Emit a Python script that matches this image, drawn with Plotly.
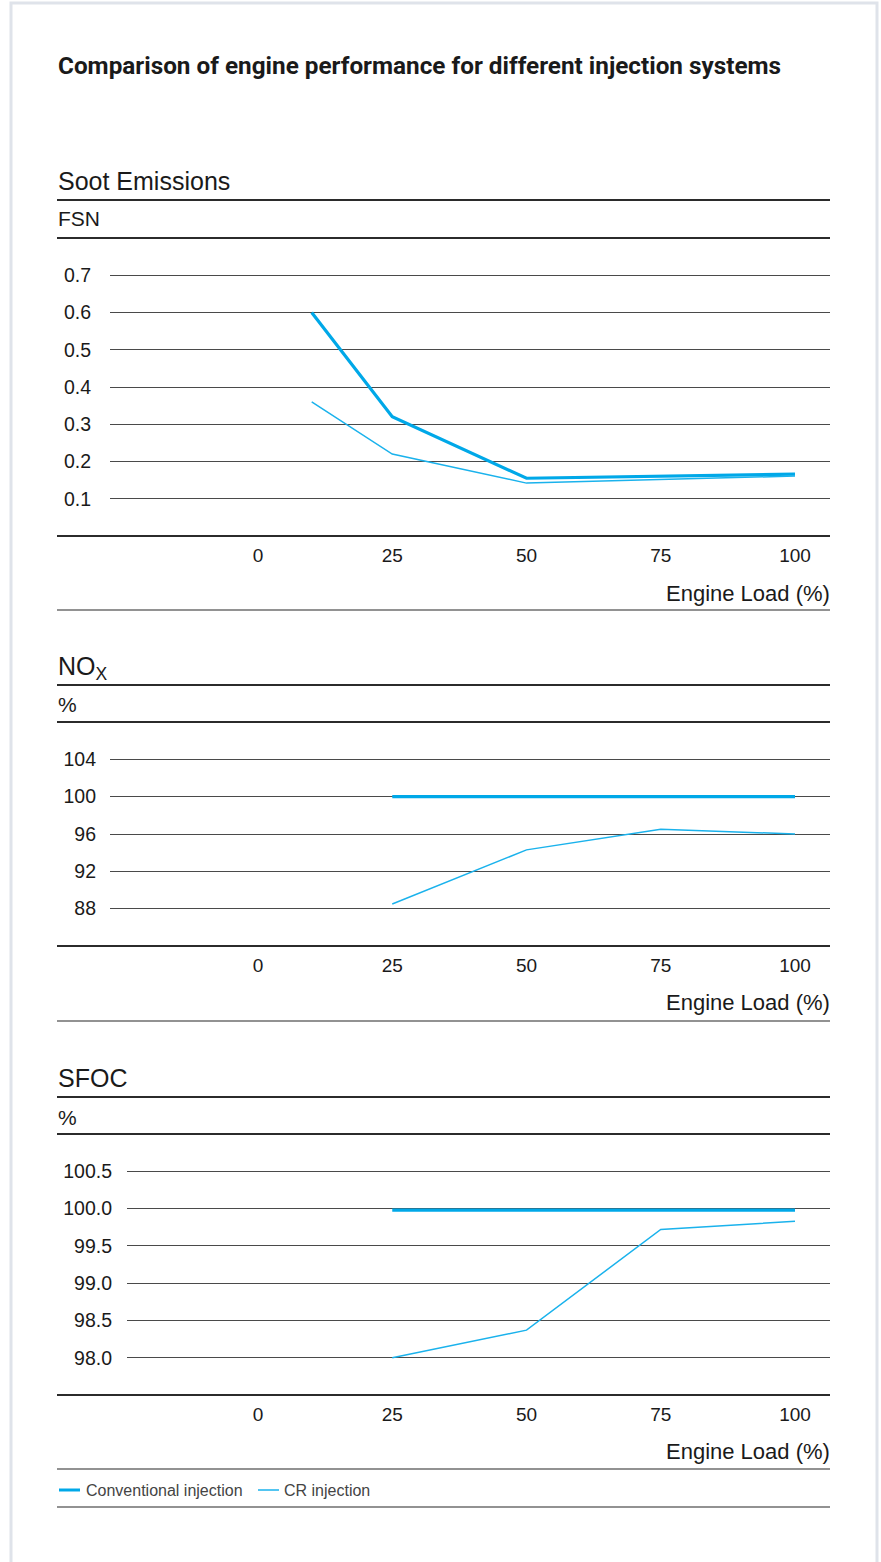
import plotly.graph_objects as go

# ---------------- data ----------------
load_ticks = [0, 25, 50, 75, 100]

soot_load = [10, 25, 50, 100]
soot_conventional = [0.60, 0.32, 0.155, 0.166]
soot_cr = [0.36, 0.22, 0.142, 0.161]
soot_ticks = [0.1, 0.2, 0.3, 0.4, 0.5, 0.6, 0.7]
soot_ticktext = ["0.1", "0.2", "0.3", "0.4", "0.5", "0.6", "0.7"]

nox_load = [25, 50, 75, 100]
nox_conventional = [100, 100, 100, 100]
nox_cr = [88.5, 94.3, 96.5, 96.0]
nox_ticks = [88, 92, 96, 100, 104]
nox_ticktext = ["88", "92", "96", "100", "104"]

sfoc_load = [25, 50, 75, 100]
sfoc_conventional = [99.98, 99.98, 99.98, 99.98]
sfoc_cr = [98.0, 98.37, 99.72, 99.83]
sfoc_ticks = [98.0, 98.5, 99.0, 99.5, 100.0, 100.5]
sfoc_ticktext = ["98.0", "98.5", "99.0", "99.5", "100.0", "100.5"]

series_names = ["Conventional injection", "CR injection"]

# ---------------- styling / layout helpers ----------------
W, H = 881, 1562
FONT = "Liberation Sans, Arial, Helvetica, sans-serif"
COL_CONV = "#00a8e8"
COL_CR = "#1ab2ec"
DARK = "#2b2b2b"
GRID = "#4a4a4a"
TXT = "#1a1a1a"


def px(x):
    return x / W


def py(y):
    return 1 - y / H


X0_PX, X100_PX = 258, 795
PX_PER_UNIT = (X100_PX - X0_PX) / 100.0


def xrange_for(left, right):
    return [(left - X0_PX) / PX_PER_UNIT, (right - X0_PX) / PX_PER_UNIT]


fig = go.Figure()

panels = [
    dict(x=soot_load, conv=soot_conventional, cr=soot_cr, ticks=soot_ticks, ticktext=soot_ticktext,
         yrange=[0.0, 0.8], left=110, top=238, bottom=536, standoff=18,
         title="Soot Emissions", unit="FSN", title_y=181, unit_y=219,
         rules=[200, 238, 536, 610], load_y=593),
    dict(x=nox_load, conv=nox_conventional, cr=nox_cr, ticks=nox_ticks, ticktext=nox_ticktext,
         yrange=[84, 108], left=110, top=722, bottom=946, standoff=13,
         title="NO<sub>X</sub>", unit="%", title_y=668, unit_y=704,
         rules=[685, 722, 946, 1021], load_y=1003),
    dict(x=sfoc_load, conv=sfoc_conventional, cr=sfoc_cr, ticks=sfoc_ticks, ticktext=sfoc_ticktext,
         yrange=[97.5, 101.0], left=127, top=1134, bottom=1395, standoff=14,
         title="SFOC", unit="%", title_y=1078, unit_y=1117,
         rules=[1097, 1134, 1395, 1469, 1507], load_y=1451),
]

shapes = []
annotations = []

# page frame
shapes.append(dict(type="rect", xref="paper", yref="paper",
                   x0=px(11), x1=px(877), y0=py(1600), y1=py(3),
                   line=dict(color="#dfe3ea", width=3), fillcolor="white", layer="below"))

annotations.append(dict(text="<b>Comparison of engine performance for different injection systems</b>",
                        xref="paper", yref="paper", x=px(56), y=py(66), xanchor="left", yanchor="middle",
                        showarrow=False,
                        font=dict(family="Roboto, Liberation Sans, sans-serif", size=24.3, color=TXT)))

RIGHT = 830
for i, p in enumerate(panels, start=1):
    xa = "xaxis" if i == 1 else f"xaxis{i}"
    ya = "yaxis" if i == 1 else f"yaxis{i}"
    xr = "x" if i == 1 else f"x{i}"
    yr = "y" if i == 1 else f"y{i}"

    fig.add_trace(go.Scatter(x=p["x"], y=p["conv"], mode="lines", name=series_names[0],
                             line=dict(color=COL_CONV, width=3.2), xaxis=xr, yaxis=yr,
                             showlegend=False))
    fig.add_trace(go.Scatter(x=p["x"], y=p["cr"], mode="lines", name=series_names[1],
                             line=dict(color=COL_CR, width=1.5), xaxis=xr, yaxis=yr,
                             showlegend=False))

    fig.update_layout(**{
        xa: dict(domain=[px(p["left"]), px(RIGHT)], range=xrange_for(p["left"], RIGHT),
                 tickvals=load_ticks, ticktext=[str(v) for v in load_ticks],
                 showgrid=False, zeroline=False, showline=False, ticks="",
                 ticklabelstandoff=6, anchor=yr,
                 tickfont=dict(family=FONT, size=19, color=TXT)),
        ya: dict(domain=[py(p["bottom"]), py(p["top"])], range=p["yrange"],
                 tickvals=p["ticks"], ticktext=p["ticktext"],
                 showgrid=True, gridcolor=GRID, gridwidth=1, zeroline=False, showline=False,
                 ticks="", ticklabelstandoff=p["standoff"], anchor=xr,
                 tickfont=dict(family=FONT, size=19.5, color=TXT)),
    })

    annotations.append(dict(text=p["title"], xref="paper", yref="paper", x=px(56), y=py(p["title_y"]),
                            xanchor="left", yanchor="middle", showarrow=False,
                            font=dict(family=FONT, size=25, color=TXT)))
    annotations.append(dict(text=p["unit"], xref="paper", yref="paper", x=px(56), y=py(p["unit_y"]),
                            xanchor="left", yanchor="middle", showarrow=False,
                            font=dict(family=FONT, size=21, color=TXT)))
    annotations.append(dict(text="Engine Load (%)", xref="paper", yref="paper", x=px(RIGHT + 2),
                            y=py(p["load_y"]), xanchor="right", yanchor="middle", showarrow=False,
                            font=dict(family=FONT, size=22, color=TXT)))

    for k, ry in enumerate(p["rules"]):
        if k < 3:
            col, w = DARK, 2
        else:
            col, w = "#6e6e6e", 1.5
        shapes.append(dict(type="line", xref="paper", yref="paper",
                           x0=px(57), x1=px(RIGHT), y0=py(ry), y1=py(ry),
                           line=dict(color=col, width=w)))

# legend (drawn)
LEG_Y = 1490
shapes.append(dict(type="line", xref="paper", yref="paper", x0=px(59), x1=px(80),
                   y0=py(LEG_Y), y1=py(LEG_Y), line=dict(color=COL_CONV, width=3)))
annotations.append(dict(text=series_names[0], xref="paper", yref="paper", x=px(84), y=py(LEG_Y),
                        xanchor="left", yanchor="middle", showarrow=False,
                        font=dict(family=FONT, size=16, color="#444444")))
shapes.append(dict(type="line", xref="paper", yref="paper", x0=px(258), x1=px(279),
                   y0=py(LEG_Y), y1=py(LEG_Y), line=dict(color=COL_CR, width=1.5)))
annotations.append(dict(text=series_names[1], xref="paper", yref="paper", x=px(282), y=py(LEG_Y),
                        xanchor="left", yanchor="middle", showarrow=False,
                        font=dict(family=FONT, size=16, color="#444444")))

fig.update_layout(width=W, height=H, margin=dict(l=0, r=0, t=0, b=0),
                  paper_bgcolor="white", plot_bgcolor="rgba(0,0,0,0)",
                  shapes=shapes, annotations=annotations, showlegend=False,
                  font=dict(family=FONT))

fig.write_html("out.html", config={"displayModeBar": False},
               post_script="document.body.style.margin='0';document.body.style.overflow='hidden';")
